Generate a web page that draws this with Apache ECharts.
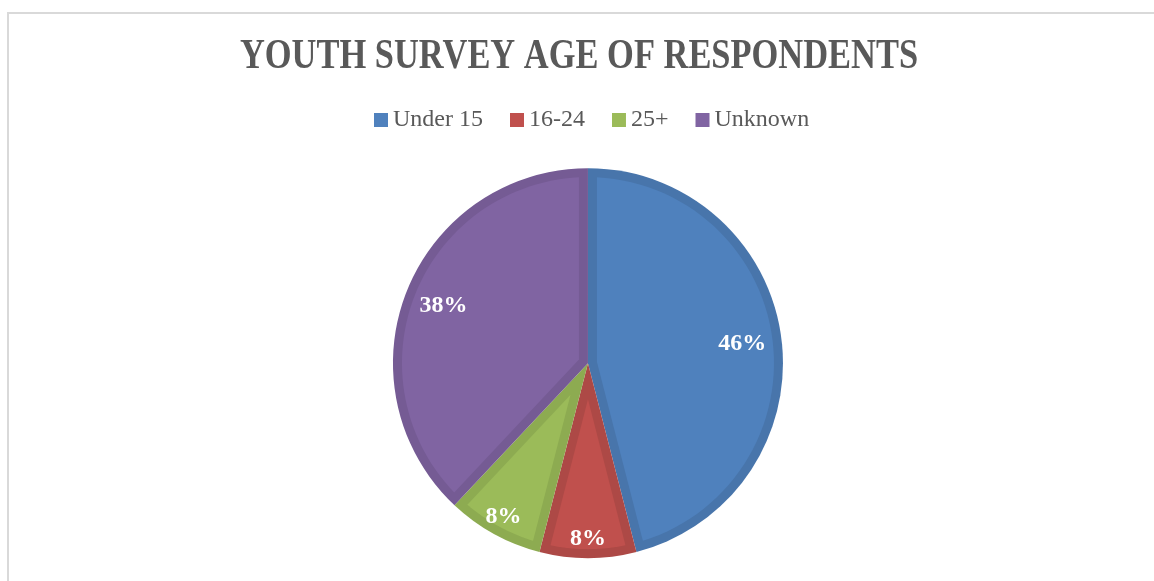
<!DOCTYPE html>
<html>
<head>
<meta charset="utf-8">
<title>Youth Survey Age of Respondents</title>
<script src="https://cdn.jsdelivr.net/npm/echarts@6/dist/echarts.min.js"></script>
<style>
  html, body { margin: 0; padding: 0; background: #ffffff; }
  #chart { width: 1154px; height: 581px; }
</style>
</head>
<body>
<div id="chart"></div>
<script>
// Survey data
const titleText = 'YOUTH SURVEY AGE OF RESPONDENTS';
const categories = ['Under 15', '16-24', '25+', 'Unknown'];
const shares = [46, 8, 8, 38];

// Palette: slice fill and the darker bevel rim around each slice
const fillColors = ['#4f81bd', '#c0504d', '#9bbb59', '#8064a2'];
const rimColors = ['#4875ab', '#ad4946', '#8dab51', '#755b94'];

const PIE_CENTER = ['50.95%', '62.5%'];
const PIE_RADIUS = 195;
const RIM = 9;
const FONT = '"Liberation Serif", "DejaVu Serif", serif';

const total = shares.reduce((a, b) => a + b, 0);
const startFrac = [];
shares.reduce((acc, v, i) => { startFrac[i] = acc; return acc + v; }, 0);

function pct(v) { return Math.round(v / total * 100) + '%'; }

// Lighter inner face of each slice, inset from the slice edges by the rim width
function renderFace(params, api) {
  const i = params.dataIndex;
  const cx = api.getWidth() * parseFloat(PIE_CENTER[0]) / 100;
  const cy = api.getHeight() * parseFloat(PIE_CENTER[1]) / 100;
  const a0 = startFrac[i] / total * Math.PI * 2;
  const a1 = (startFrac[i] + shares[i]) / total * Math.PI * 2;
  const theta = a1 - a0;
  const rIn = PIE_RADIUS - RIM;
  const delta = Math.asin(RIM / rIn);
  const pt = (r, a) => [cx + r * Math.sin(a), cy - r * Math.cos(a)];
  const points = [];
  if (theta < Math.PI) {
    points.push(pt(RIM / Math.sin(theta / 2), (a0 + a1) / 2));
  } else {
    points.push(pt(0, 0));
  }
  const steps = 60;
  for (let k = 0; k <= steps; k++) {
    const a = (a0 + delta) + (theta - 2 * delta) * k / steps;
    points.push(pt(rIn, a));
  }
  return {
    type: 'polygon',
    shape: { points: points },
    style: { fill: fillColors[i], stroke: null }
  };
}

const pieData = categories.map((name, i) => ({ name: name, value: shares[i] }));
const bigShare = v => v / total >= 0.2;

function labelSeries(radius, showFn, z) {
  return {
    type: 'pie',
    z: z,
    silent: true,
    center: PIE_CENTER,
    radius: radius,
    startAngle: 90,
    clockwise: true,
    data: pieData.map(d => ({
      name: d.name,
      value: d.value,
      label: { show: showFn(d.value) }
    })),
    itemStyle: { color: 'rgba(0,0,0,0)', borderWidth: 0 },
    label: {
      position: 'inside',
      formatter: p => pct(p.value),
      color: '#ffffff',
      fontFamily: FONT,
      fontWeight: 'bold',
      fontSize: 24
    },
    labelLine: { show: false },
    emphasis: { disabled: true }
  };
}

const chart = echarts.init(document.getElementById('chart'), null, { renderer: 'canvas' });

chart.setOption({
  backgroundColor: '#ffffff',
  animation: false,
  graphic: [
    {
      type: 'rect',
      silent: true,
      shape: { x: 8, y: 13, width: 1300, height: 700 },
      style: { fill: null, stroke: '#d9d9d9', lineWidth: 2 }
    },
    {
      type: 'text',
      silent: true,
      x: 579,
      y: 57,
      scaleX: 0.84,
      scaleY: 1.04,
      style: {
        text: titleText,
        fill: '#595959',
        font: 'bold 41px ' + FONT,
        textAlign: 'center',
        textVerticalAlign: 'middle'
      }
    }
  ],
  legend: {
    top: 103,
    left: 369,
    icon: 'rect',
    itemWidth: 14,
    itemHeight: 14,
    itemGap: 27,
    selectedMode: false,
    data: categories.map((name, i) => ({ name: name, itemStyle: { color: fillColors[i] } })),
    textStyle: { color: '#595959', fontFamily: FONT, fontSize: 24 }
  },
  series: [
    {
      type: 'pie',
      z: 1,
      silent: true,
      center: PIE_CENTER,
      radius: PIE_RADIUS,
      startAngle: 90,
      clockwise: true,
      data: pieData.map((d, i) => ({ name: d.name, value: d.value, itemStyle: { color: rimColors[i] } })),
      itemStyle: { borderWidth: 0 },
      label: { show: false },
      labelLine: { show: false },
      emphasis: { disabled: true }
    },
    {
      type: 'custom',
      z: 2,
      silent: true,
      coordinateSystem: 'none',
      data: shares,
      renderItem: renderFace
    },
    labelSeries([110, PIE_RADIUS], v => bigShare(v), 3),
    labelSeries([150, PIE_RADIUS], v => !bigShare(v), 3)
  ]
});
</script>
</body>
</html>
